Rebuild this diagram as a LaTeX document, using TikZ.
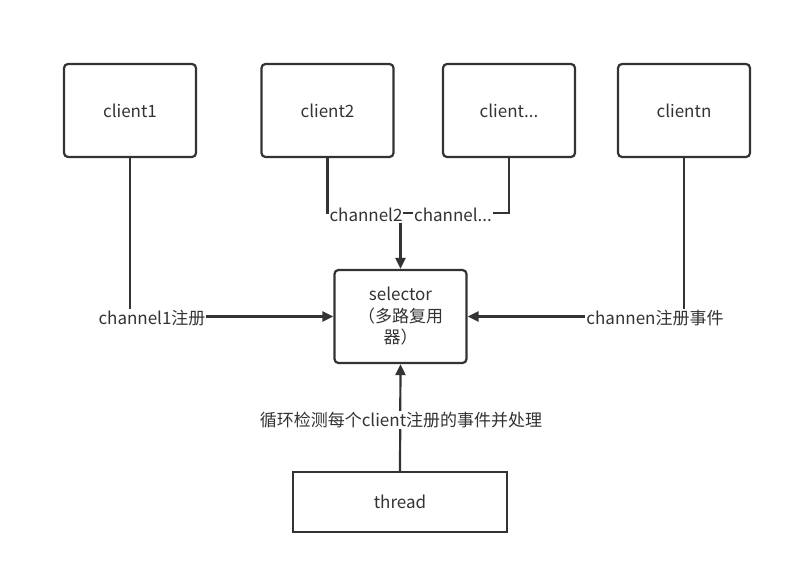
\documentclass[tikz,border=0pt]{standalone}
\usepackage{fontspec}
\setmainfont{Noto Sans CJK SC}
\usepackage{tikz}
\usetikzlibrary{arrows.meta, positioning}
\usepackage{xcolor}
\definecolor{inkgray}{RGB}{51, 51, 51}

\begin{document}
\begin{tikzpicture}[x=1pt, y=-1pt,
		box/.style={draw=inkgray, line width=2.2pt, rounded corners=4pt,
			minimum width=132pt, minimum height=93pt, text=inkgray,
			font=\fontsize{17}{21.5}\selectfont, align=center},
		lbl/.style={fill=white, inner sep=1pt, text=inkgray,
			font=\fontsize{17}{20}\selectfont},
		conn/.style={draw=inkgray, line width=2.2pt},
		arr/.style={conn, -{Triangle[length=11pt, width=10pt]}}]
	\useasboundingbox (0,0) rectangle (794,575);
	%--- clients ---
	\node[box] (c1) at (130,110.5) {client1};
	\node[box] (c2) at (327.5,110.5) {client2};
	\node[box] (c3) at (509,110.5) {client...};
	\node[box] (cn) at (684,110.5) {clientn};
	%--- selector and thread ---
	\node[box] (sel) at (400.5,316.5) {selector\\（多路复用\\器）};
	\node[box, rounded corners=0pt, minimum width=214pt, minimum height=60pt]
		(th) at (400,502) {thread};
	\coordinate (join) at (400.5,213);
	%--- connectors ---
	\draw[arr] (c1.south) |- (sel.west);
	\draw[arr] (c2.south) |- (join) -- (sel.north);
	\draw[conn] (c3.south) |- (join);
	\draw[arr] (cn.south) |- (sel.east);
	\draw[arr] (th.north) -- (sel.south);
	%--- labels on the connectors ---
	\node[lbl] (l1) at (152,318) {channel1注册};
	\node[lbl] (l2) at (366,215) {channel2};
	\node[lbl] (l3) at (453,215) {channel...};
	\node[lbl] (ln) at (655,318) {channen注册事件};
	\node[lbl] (lt) at (401,420) {循环检测每个client注册的事件并处理};
\end{tikzpicture}
\end{document}
